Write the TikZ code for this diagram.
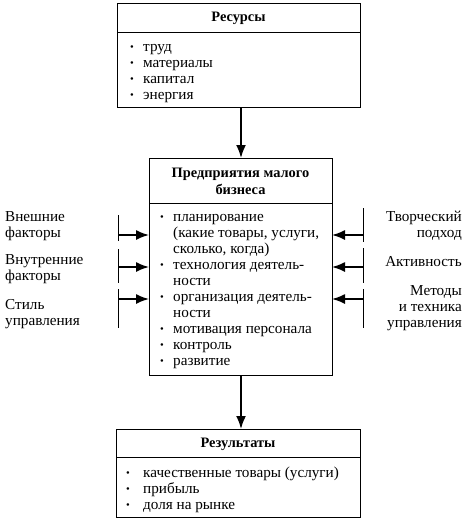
\documentclass[tikz,border=0pt]{standalone}
\usepackage{fontspec}
\setmainfont{Liberation Serif}
\usetikzlibrary{arrows.meta}
\newcommand\bl[1][13pt]{\makebox[#1][l]{\raisebox{0.5pt}{\scalebox{0.7}{•}}}}
\begin{document}
\begin{tikzpicture}[x=1pt,y=-1pt,
  box/.style={draw, line width=0.9pt, inner sep=0pt, outer sep=0pt, anchor=north west},
  txt/.style={font=\fontsize{15.2}{16}\selectfont, inner sep=0pt, align=left, anchor=north west},
  lbl/.style={font=\fontsize{15.2}{16}\selectfont, inner sep=0pt},
  hdr/.style={font=\fontsize{14.4}{17}\selectfont\bfseries, inner sep=0pt, align=center},
  arr/.style={line width=1.8pt, -{Latex[length=13pt,width=10pt]}},
  side/.style={line width=1.6pt, -{Latex[length=13pt,width=10pt]}},
  bar/.style={line width=0.9pt},
  sep/.style={line width=0.9pt}]
\useasboundingbox (0,0) rectangle (465,520);
% boxes
\node[box, minimum width=243pt, minimum height=104pt] (res) at (117,3) {};
\node[box, minimum width=183pt, minimum height=217pt] (firm) at (149,158) {};
\node[box, minimum width=244pt, minimum height=88pt] (out) at (116,429) {};
\coordinate (d1) at (0,32);
\coordinate (d2) at (0,203);
\coordinate (d3) at (0,457);
\draw[sep] (res.west |- d1) -- (res.east |- d1);
\draw[sep] (firm.west |- d2) -- (firm.east |- d2);
\draw[sep] (out.west |- d3) -- (out.east |- d3);
% headers
\node[hdr] (resh) at (238.5,18) {Ресурсы};
\node[hdr] (firmh) at (240.5,181) {Предприятия малого\\бизнеса};
\node[hdr] (outh) at (238,444) {Результаты};
% bodies
\node[txt] (resb) at (130,39.8) {\strut\bl[13pt]труд\\\bl[13pt]материалы\\\bl[13pt]капитал\\\bl[13pt]энергия};
\node[txt] (firmb) at (160,209.8) {\strut\bl планирование\\\hspace*{13pt}(какие товары, услуги,\\\hspace*{13pt}сколько, когда)\\\bl технология деятель-\\\hspace*{13pt}ности\\\bl организация деятель-\\\hspace*{13pt}ности\\\bl мотивация персонала\\\bl контроль\\\bl развитие};
\node[txt] (outb) at (126,465.8) {\strut\bl[17pt]качественные товары (услуги)\\\bl[17pt]прибыль\\\bl[17pt]доля на рынке};
% vertical arrows
\coordinate (ax) at (241,0);
\draw[arr] (res.south -| ax) -- (firm.north -| ax);
\draw[arr] (firm.south -| ax) -- (out.north -| ax);
% left bars
\coordinate (l1a) at (118,215); \coordinate (l1b) at (118,241);
\coordinate (l2a) at (118,249); \coordinate (l2b) at (118,283);
\coordinate (l3a) at (118,289); \coordinate (l3b) at (118,328);
\draw[bar] (l1a) -- (l1b); \draw[bar] (l2a) -- (l2b); \draw[bar] (l3a) -- (l3b);
\coordinate (la1) at (118,235); \coordinate (la2) at (118,267); \coordinate (la3) at (118,299);
\draw[side] (la1) -- (firm.west |- la1);
\draw[side] (la2) -- (firm.west |- la2);
\draw[side] (la3) -- (firm.west |- la3);
% right bars
\coordinate (r1a) at (363,208); \coordinate (r1b) at (363,242);
\coordinate (r2a) at (363,248); \coordinate (r2b) at (363,283);
\coordinate (r3a) at (363,289); \coordinate (r3b) at (363,328);
\draw[bar] (r1a) -- (r1b); \draw[bar] (r2a) -- (r2b); \draw[bar] (r3a) -- (r3b);
\coordinate (ra1) at (363,235); \coordinate (ra2) at (363,267); \coordinate (ra3) at (363,299);
\draw[side] (ra1) -- (firm.east |- ra1);
\draw[side] (ra2) -- (firm.east |- ra2);
\draw[side] (ra3) -- (firm.east |- ra3);
% side labels
\node[lbl, align=left, anchor=north west] (ext) at (5,209.8) {\strut Внешние\\факторы};
\node[lbl, align=left, anchor=north west] (int) at (5,252.8) {\strut Внутренние\\факторы};
\node[lbl, align=left, anchor=north west] (sty) at (5,298) {\strut Стиль\\управления};
\node[lbl, align=right, anchor=north east] (cre) at (462,209.8) {\strut Творческий\\подход};
\node[lbl, align=right, anchor=north east] (act) at (462,254.8) {\strut Активность};
\node[lbl, align=right, anchor=north east] (met) at (462,283.8) {\strut Методы\\и техника\\управления};
\end{tikzpicture}
\end{document}
